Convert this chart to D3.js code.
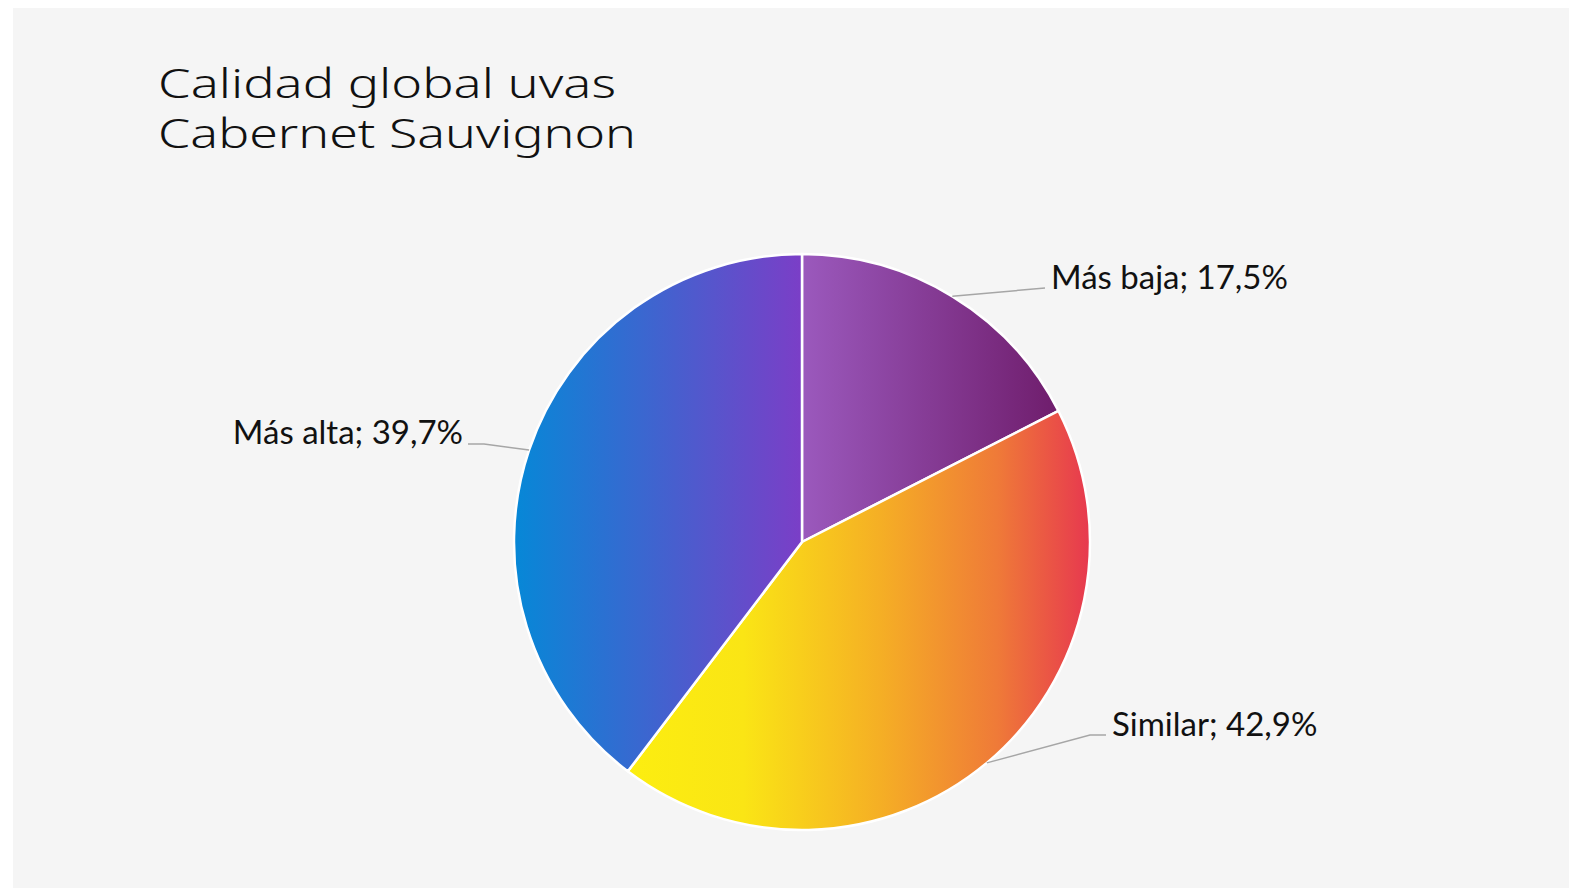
<!DOCTYPE html>
<html>
<head>
<meta charset="utf-8">
<script src="https://cdn.jsdelivr.net/npm/d3@7"></script>
<style>
  html, body { margin: 0; padding: 0; background: #ffffff; }
  svg { display: block; }
</style>
</head>
<body>
<div id="chart"></div>
<script>
'use strict';

// Data
var categories = ['Más baja', 'Similar', 'Más alta'];
var values = [17.5, 42.9, 39.7];
var valueLabels = ['17,5%', '42,9%', '39,7%'];
var titleLines = ['Calidad global uvas', 'Cabernet Sauvignon'];

// gradient stops per slice, left -> right  [offset, colour]
var gradients = [
	[[0, '#9b59bd'], [1, '#6f1d6c']],
	[[0, '#fcee10'], [0.25, '#fae515'], [0.55, '#f5ae25'], [0.8, '#ef7a38'], [1, '#e7384f']],
	[[0, '#0688d7'], [1, '#7b3ec7']]
];

var width = 1569,
	height = 888;
var cx = 802,
	cy = 542,
	radius = 288;

// label layout: elbow / end of leader line and text anchor per slice
var labelLayout = [
	{ elbow: [1045, 288], end: [1045, 288], text: [1051, 289], anchor: 'start' },
	{ elbow: [1090, 735], end: [1106, 735], text: [1112, 736], anchor: 'start' },
	{ elbow: [484, 444], end: [468, 444], text: [463, 444], anchor: 'end' }
];
var titleWidths = [458, 478];

var svg = d3.select('#chart')
	.append('svg')
	.attr('width', width)
	.attr('height', height);

svg.append('rect')
	.attr('x', 13)
	.attr('y', 8)
	.attr('width', width - 13)
	.attr('height', height - 8)
	.attr('fill', '#f5f5f5');

var defs = svg.append('defs');
gradients.forEach(function (g, i) {
	var lg = defs.append('linearGradient')
		.attr('id', 'grad' + i)
		.attr('x1', '0%').attr('y1', '0%')
		.attr('x2', '100%').attr('y2', '0%');
	g.forEach(function (s) {
		lg.append('stop').attr('offset', s[0]).attr('stop-color', s[1]);
	});
});

// title
svg.selectAll('text.title')
	.data(titleLines)
	.enter()
	.append('text')
	.attr('class', 'title')
	.attr('x', 158)
	.attr('y', function (d, i) { return 98 + i * 50; })
	.attr('textLength', function (d, i) { return titleWidths[i]; })
	.attr('lengthAdjust', 'spacingAndGlyphs')
	.style('font-family', '"Noto Sans", sans-serif')
	.style('font-size', '40px')
	.style('font-weight', 300)
	.attr('fill', '#111')
	.text(function (d) { return d; });

var pie = d3.pie().sort(null).value(function (d) { return d; });
var arc = d3.arc().innerRadius(0).outerRadius(radius);
var arcs = pie(values);

var g = svg.append('g').attr('transform', 'translate(' + cx + ',' + cy + ')');

g.selectAll('path.slice')
	.data(arcs)
	.enter()
	.append('path')
	.attr('class', 'slice')
	.attr('d', arc)
	.attr('fill', function (d, i) { return 'url(#grad' + i + ')'; })
	.attr('stroke', '#ffffff')
	.attr('stroke-width', 2.5)
	.attr('stroke-linejoin', 'round');

// leader lines + labels
arcs.forEach(function (d, i) {
	var mid = (d.startAngle + d.endAngle) / 2;
	var sx = cx + radius * Math.sin(mid),
		sy = cy - radius * Math.cos(mid);
	var L = labelLayout[i];
	svg.append('polyline')
		.attr('points', [[sx, sy], L.elbow, L.end].map(function (p) { return p.join(','); }).join(' '))
		.attr('fill', 'none')
		.attr('stroke', '#a6a6a6')
		.attr('stroke-width', 1.5);

	svg.append('text')
		.attr('x', L.text[0])
		.attr('y', L.text[1])
		.attr('text-anchor', L.anchor)
		.style('font-family', 'Lato, "Liberation Sans", sans-serif')
		.style('font-size', '33px')
		.attr('fill', '#111')
		.text(categories[i] + '; ' + valueLabels[i]);
});
</script>
</body>
</html>
